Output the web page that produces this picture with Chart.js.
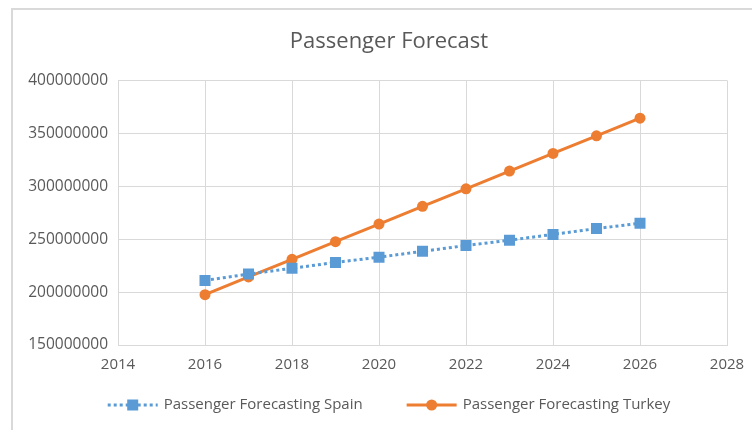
<!DOCTYPE html>
<html>
<head>
<meta charset="utf-8">
<script src="https://cdn.jsdelivr.net/npm/chart.js@4/dist/chart.umd.min.js"></script>
<style>
  html, body { margin: 0; padding: 0; background: #ffffff; overflow: hidden; }
  #frame {
    position: absolute; left: 11px; top: 8px;
    width: 760px; height: 440px;
    border: 2px solid #d9d9d9; background: #ffffff;
  }
  #wrap { position: absolute; left: 0px; top: 0px; width: 752px; height: 420px; }
</style>
</head>
<body>
<div id="frame"><div id="wrap"><canvas id="chart"></canvas></div></div>
<script>
const years = [2016, 2017, 2018, 2019, 2020, 2021, 2022, 2023, 2024, 2025, 2026];
const spain = [211000000, 217000000, 222500000, 228000000, 233000000, 238500000, 244000000, 249000000, 254500000, 260000000, 265000000];
const turkey = [197500000, 214300000, 231000000, 247600000, 264300000, 281000000, 297600000, 314300000, 331000000, 347600000, 364300000];
const seriesNames = ["Passenger Forecasting Spain", "Passenger Forecasting Turkey"];

const textColor = "#595959";
const gridColor = "#d9d9d9";
const fontFamily = "'Open Sans', sans-serif";

function toPoints(values) {
  return years.map((y, i) => ({ x: y, y: values[i] }));
}

// legend drawn by hand so the sample lines and spacing look like Excel's
const excelLegend = {
  id: "excelLegend",
  afterDraw(chart) {
    const ctx = chart.ctx;
    const y = 395;
    const sampleW = 50, textGap = 6, itemGap = 44;
    ctx.save();
    ctx.font = "15px " + fontFamily;
    const widths = seriesNames.map(n => ctx.measureText(n).width);
    const total = widths.reduce((a, w) => a + sampleW + textGap + w, 0) + itemGap * (widths.length - 1);
    let x = (chart.width - total) / 2;
    chart.data.datasets.forEach((ds, i) => {
      ctx.strokeStyle = ds.borderColor;
      ctx.lineWidth = ds.borderWidth;
      ctx.setLineDash(ds.borderDash || []);
      ctx.beginPath();
      ctx.moveTo(x, y);
      ctx.lineTo(x + sampleW, y);
      ctx.stroke();
      ctx.setLineDash([]);
      ctx.fillStyle = ds.pointBackgroundColor;
      const cx = x + sampleW / 2;
      if (ds.pointStyle === "rect") {
        ctx.fillRect(cx - 5.5, y - 5.5, 11, 11);
      } else {
        ctx.beginPath();
        ctx.arc(cx, y, 5.5, 0, Math.PI * 2);
        ctx.fill();
      }
      ctx.fillStyle = textColor;
      ctx.textBaseline = "middle";
      ctx.textAlign = "left";
      ctx.fillText(seriesNames[i], x + sampleW + textGap, y);
      x += sampleW + textGap + widths[i] + itemGap;
    });
    ctx.restore();
  }
};

new Chart(document.getElementById("chart"), {
  type: "scatter",
  data: {
    datasets: [
      {
        label: seriesNames[0],
        data: toPoints(spain),
        showLine: true,
        borderColor: "#5B9BD5",
        borderWidth: 3,
        borderDash: [3, 3],
        pointStyle: "rect",
        pointRadius: 7.8,
        pointBackgroundColor: "#5B9BD5",
        pointBorderColor: "#5B9BD5",
        pointBorderWidth: 0,
      },
      {
        label: seriesNames[1],
        data: toPoints(turkey),
        showLine: true,
        borderColor: "#ED7D31",
        borderWidth: 3,
        pointStyle: "circle",
        pointRadius: 5.5,
        pointBackgroundColor: "#ED7D31",
        pointBorderColor: "#ED7D31",
        pointBorderWidth: 0,
      },
    ],
  },
  options: {
    responsive: true,
    maintainAspectRatio: false,
    animation: false,
    layout: { padding: 0 },
    plugins: {
      legend: { display: false },
      tooltip: { enabled: false },
      title: {
        display: true,
        text: "Passenger Forecast",
        color: textColor,
        font: { family: fontFamily, size: 22, weight: "normal" },
        padding: { top: 19, bottom: 25 },
      },
    },
    scales: {
      x: {
        type: "linear",
        min: 2014,
        max: 2028,
        afterFit: scale => { scale.height = 85; },
        ticks: {
          stepSize: 2,
          color: textColor,
          font: { family: fontFamily, size: 15 },
          padding: 11,
          callback: v => String(v),
        },
        grid: { color: gridColor, drawTicks: false },
        border: { color: gridColor },
      },
      y: {
        min: 150000000,
        max: 400000000,
        afterFit: scale => { scale.width = 105; },
        ticks: {
          stepSize: 50000000,
          color: textColor,
          font: { family: fontFamily, size: 15.5 },
          padding: 10,
          callback: v => String(v),
        },
        grid: { color: gridColor, drawTicks: false },
        border: { color: gridColor },
      },
      // empty right-hand axis, only keeps space so the title stays centred on the whole chart
      yRight: {
        position: "right",
        afterFit: scale => { scale.width = 38; },
        ticks: { display: false },
        grid: { display: false },
        border: { display: false },
      },
    },
  },
  plugins: [excelLegend],
});
</script>
</body>
</html>
